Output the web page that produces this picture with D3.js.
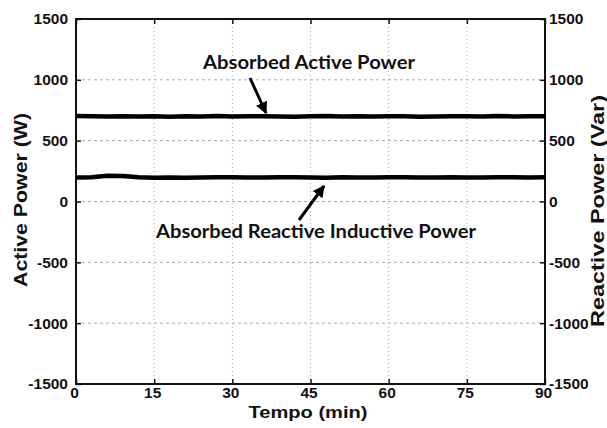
<!DOCTYPE html>
<meta charset="utf-8">
<style>
body { margin: 0; background: #fff; }
svg { display: block; }
.lbl { font-family: "Liberation Sans", Arial, sans-serif; font-weight: bold; fill: #111; }
.note { font-family: Lato, "Open Sans", sans-serif; font-weight: bold; fill: #111; }
</style>
<body>
<script src="https://cdn.jsdelivr.net/npm/d3@7"></script>
<script>
// minutes, sampled every 3 min
var minutes = [0,3,6,9,12,15,18,21,24,27,30,33,36,39,42,45,48,51,54,57,60,63,66,69,72,75,78,81,84,87,90];
// absorbed active power (W)
var activePower = [702,700,698,701,699,700,697,701,699,702,698,700,701,699,697,700,702,699,700,698,701,700,697,699,701,700,698,702,699,700,701];
// absorbed reactive inductive power (Var)
var reactivePower = [198,200,212,210,199,196,198,195,197,199,200,198,197,199,200,198,196,199,197,198,200,199,197,198,199,197,198,199,200,198,199];
var xTicks = [0,15,30,45,60,75,90];
var yTicks = [-1500,-1000,-500,0,500,1000,1500];

var W = 607, H = 428;
var margin = {top: 19, right: 62, bottom: 44, left: 76};
var width = W - margin.left - margin.right,
    height = H - margin.top - margin.bottom;

var svg = d3.select("body").append("svg")
    .attr("width", W).attr("height", H);
var g = svg.append("g")
    .attr("transform", "translate(" + margin.left + "," + margin.top + ")");

var x = d3.scaleLinear().domain([0, 90]).range([0, width]);
var y = d3.scaleLinear().domain([-1500, 1500]).range([height, 0]);
var y2 = d3.scaleLinear().domain([-1500, 1500]).range([height, 0]);
var fmt = function(d) { return String(d); };

// dotted grid
g.selectAll(".gx").data(xTicks.slice(1, -1)).enter().append("line")
    .attr("x1", function(d) { return x(d); }).attr("x2", function(d) { return x(d); })
    .attr("y1", 0).attr("y2", height)
    .attr("stroke", "#aaa").attr("stroke-width", 1).attr("stroke-dasharray", "1,3");
g.selectAll(".gy").data(yTicks.slice(1, -1)).enter().append("line")
    .attr("x1", 0).attr("x2", width)
    .attr("y1", function(d) { return y(d); }).attr("y2", function(d) { return y(d); })
    .attr("stroke", "#aaa").attr("stroke-width", 1).attr("stroke-dasharray", "3,3");

// axes (ticks inward)
var ax = g.append("g").attr("transform", "translate(0," + height + ")")
    .call(d3.axisBottom(x).tickValues(xTicks).tickFormat(fmt).tickSizeInner(-5).tickSizeOuter(0).tickPadding(8));
var axTop = g.append("g")
    .call(d3.axisTop(x).tickValues(xTicks).tickSizeInner(-5).tickSizeOuter(0).tickFormat(""));
var ay = g.append("g")
    .call(d3.axisLeft(y).tickValues(yTicks).tickFormat(fmt).tickSizeInner(-5).tickSizeOuter(0).tickPadding(8));
var ay2 = g.append("g").attr("transform", "translate(" + width + ",0)")
    .call(d3.axisRight(y2).tickValues(yTicks).tickFormat(fmt).tickSizeInner(-5).tickSizeOuter(0).tickPadding(4));
[ax, axTop, ay, ay2].forEach(function(a) {
  a.attr("font-family", "Liberation Sans, Arial, sans-serif").attr("font-size", 15.5);
  a.select(".domain").remove();
  a.selectAll(".tick line").attr("stroke", "#111").attr("stroke-width", 1.5);
  a.selectAll(".tick text").attr("font-weight", "bold").attr("fill", "#111");
});
ax.selectAll(".tick text").attr("dy", "0.4em").attr("dx", -2);

// frame
g.append("rect").attr("width", width).attr("height", height)
    .attr("fill", "none").attr("stroke", "#111").attr("stroke-width", 2);

// series
var line1 = d3.line()
    .x(function(d, i) { return x(minutes[i]); })
    .y(function(d) { return y(d); });
var line2 = d3.line()
    .x(function(d, i) { return x(minutes[i]); })
    .y(function(d) { return y2(d); });
g.append("path").datum(activePower).attr("d", line1)
    .attr("fill", "none").attr("stroke", "#000").attr("stroke-width", 4.5);
g.append("path").datum(reactivePower).attr("d", line2)
    .attr("fill", "none").attr("stroke", "#000").attr("stroke-width", 4.5);

// axis labels
svg.append("text").attr("class", "lbl")
    .attr("x", 308).attr("y", 418).attr("text-anchor", "middle")
    .attr("font-size", 17).attr("textLength", 119).attr("lengthAdjust", "spacingAndGlyphs")
    .text("Tempo (min)");
svg.append("text").attr("class", "lbl")
    .attr("transform", "translate(27,200) rotate(-90)").attr("text-anchor", "middle")
    .attr("font-size", 18).attr("textLength", 174).attr("lengthAdjust", "spacingAndGlyphs")
    .text("Active Power (W)");
svg.append("text").attr("class", "lbl")
    .attr("transform", "translate(604,211) rotate(-90)").attr("text-anchor", "middle")
    .attr("font-size", 18).attr("textLength", 232).attr("lengthAdjust", "spacingAndGlyphs")
    .text("Reactive Power (Var)");

// annotations
var defs = svg.append("defs");
defs.append("marker").attr("id", "ah")
    .attr("viewBox", "0 0 10 10").attr("refX", 9).attr("refY", 5)
    .attr("markerWidth", 4).attr("markerHeight", 4).attr("orient", "auto")
    .append("path").attr("d", "M0,0L10,5L0,10z").attr("fill", "#000");

svg.append("text").attr("class", "note")
    .attr("x", 203).attr("y", 69).attr("font-size", 18)
    .attr("textLength", 212).attr("lengthAdjust", "spacingAndGlyphs")
    .text("Absorbed Active Power");
svg.append("line").attr("x1", 250).attr("y1", 78).attr("x2", 266).attr("y2", 113)
    .attr("stroke", "#000").attr("stroke-width", 3).attr("marker-end", "url(#ah)");

svg.append("text").attr("class", "note")
    .attr("x", 156).attr("y", 238).attr("font-size", 18)
    .attr("textLength", 320).attr("lengthAdjust", "spacingAndGlyphs")
    .text("Absorbed Reactive Inductive Power");
svg.append("line").attr("x1", 299).attr("y1", 220).attr("x2", 324).attr("y2", 186)
    .attr("stroke", "#000").attr("stroke-width", 3).attr("marker-end", "url(#ah)");
</script>
</body>
